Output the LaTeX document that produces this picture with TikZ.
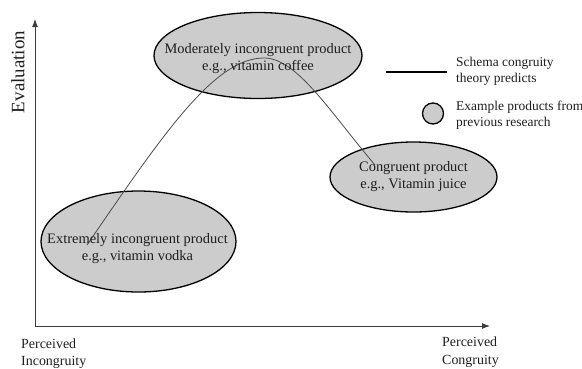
\documentclass[tikz,border=0pt]{standalone}
\usepackage{fontspec}
\setmainfont{Liberation Serif}
\usetikzlibrary{shapes.geometric,arrows.meta}
\definecolor{ellfill}{RGB}{204,204,204}
\definecolor{axisgray}{RGB}{60,60,60}
\definecolor{txt}{RGB}{30,30,30}
\begin{document}
\begin{tikzpicture}[x=1bp,y=-1bp,
  prod/.style={ellipse,draw=black,line width=1.3bp,fill=ellfill,inner sep=0pt},
  prodtext/.style={align=center,text=txt,font=\fontsize{14.5}{17}\selectfont,inner sep=0pt},
  legtext/.style={anchor=west,align=left,text=txt,font=\fontsize{13.5}{16}\selectfont,inner sep=0pt},
  axlabel/.style={anchor=west,align=left,text=txt,font=\fontsize{14}{17.5}\selectfont,inner sep=0pt},
  axisline/.style={draw=axisgray,line width=0.9bp,-{Latex[length=8bp,width=6bp]}},
  curveline/.style={draw=black!70,line width=0.8bp}]
\useasboundingbox (0,0) rectangle (582,368);
% axes
\coordinate (o) at (35,326);
\coordinate (ytip) at (35,19);
\coordinate (xtip) at (490,326);
\draw[axisline] (o) -- (ytip);
\draw[axisline] (o) -- (xtip);
\node[rotate=90,text=txt,font=\fontsize{19}{21}\selectfont,inner sep=0pt] (eval) at (18,72) {Evaluation};
\node[axlabel] (pinc) at (21,353.5) {Perceived\\Incongruity};
\node[axlabel] (pcon) at (442,352) {Perceived\\Congruity};
% ellipses
\node[prod,minimum width=208bp,minimum height=86bp] (mod) at (258,55.5) {};
\node[prod,minimum width=167bp,minimum height=70bp] (con) at (413.5,177) {};
\node[prod,minimum width=195bp,minimum height=101bp] (ext) at (138.5,241.5) {};
% curve
\coordinate (cs) at (87,245);
\coordinate (cp) at (264,58);
\coordinate (ce) at (375,165);
\draw[curveline] (cs) .. controls (165,131) and (215,58) .. (cp) .. controls (297,58) and (330,112) .. (ce);
% texts
\node[prodtext] (modt) at (258,58.5) {Moderately incongruent product\\e.g., vitamin coffee};
\node[prodtext] (cont) at (413.5,176.5) {Congruent product\\e.g., Vitamin juice};
\node[prodtext] (extt) at (137.5,248.5) {Extremely incongruent product\\e.g., vitamin vodka};
% legend
\coordinate (l1) at (386,72);
\coordinate (l2) at (447,72);
\draw[black,line width=2bp] (l1) -- (l2);
\node[legtext] (leg1) at (456,71.5) {Schema congruity\\theory predicts};
\node[circle,draw=black,line width=1.3bp,fill=ellfill,minimum size=21bp,inner sep=0pt] (legc) at (433,113.5) {};
\node[legtext] (leg2) at (456,115) {Example products from\\previous research};
\end{tikzpicture}
\end{document}
